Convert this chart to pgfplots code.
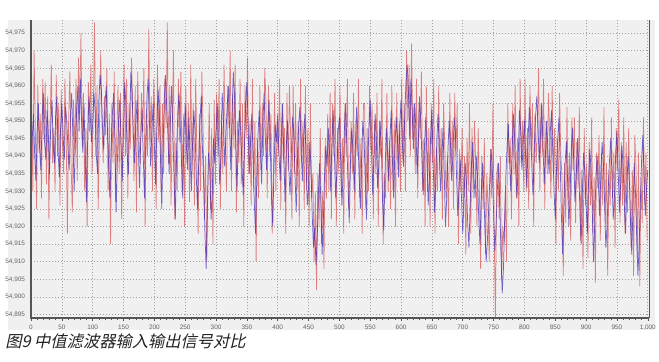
\documentclass[border=0pt]{standalone}
\usepackage{pgfplots}
\pgfplotsset{compat=1.18}
\usepackage{pgfplotstable}
\usepackage{fontspec}
\setmainfont{Liberation Sans}
\newfontfamily\cjk[FakeSlant=0.22]{Noto Sans CJK SC}
\definecolor{panel}{RGB}{240,240,240}
\definecolor{inred}{RGB}{210,65,65}
\definecolor{outblue}{RGB}{60,40,185}
\definecolor{gridc}{RGB}{160,160,160}
\definecolor{tickc}{RGB}{100,100,100}
\definecolor{axisc}{RGB}{85,85,85}
\definecolor{captionc}{RGB}{35,35,35}

\pgfplotstableread[row sep=\\]{
x y\\
0 54.938\\ 2 54.945\\ 4 54.952\\ 6 54.940\\ 8 54.933\\ 10 54.947\\ 12 54.955\\ 14 54.942\\ 16 54.936\\ 18 54.950\\
20 54.958\\ 22 54.944\\ 24 54.939\\ 26 54.953\\ 28 54.947\\ 30 54.935\\ 32 54.949\\ 34 54.956\\ 36 54.943\\ 38 54.938\\
40 54.952\\ 42 54.957\\ 44 54.941\\ 46 54.934\\ 48 54.948\\ 50 54.955\\ 52 54.946\\ 54 54.939\\ 56 54.954\\ 58 54.950\\
60 54.942\\ 62 54.936\\ 64 54.951\\ 66 54.958\\ 68 54.945\\ 70 54.930\\ 72 54.944\\ 74 54.953\\ 76 54.960\\ 78 54.947\\
80 54.962\\ 82 54.950\\ 84 54.941\\ 86 54.955\\ 88 54.938\\ 90 54.927\\ 92 54.946\\ 94 54.957\\ 96 54.952\\ 98 54.944\\
100 54.949\\ 102 54.958\\ 104 54.953\\ 106 54.940\\ 108 54.935\\ 110 54.956\\ 112 54.963\\ 114 54.959\\ 116 54.948\\ 118 54.942\\
120 54.955\\ 122 54.960\\ 124 54.947\\ 126 54.937\\ 128 54.928\\ 130 54.943\\ 132 54.952\\ 134 54.958\\ 136 54.945\\ 138 54.924\\
140 54.938\\ 142 54.950\\ 144 54.956\\ 146 54.944\\ 148 54.933\\ 150 54.947\\ 152 54.961\\ 154 54.954\\ 156 54.940\\ 158 54.935\\
160 54.951\\ 162 54.964\\ 164 54.958\\ 166 54.946\\ 168 54.938\\ 170 54.949\\ 172 54.956\\ 174 54.942\\ 176 54.931\\ 178 54.945\\
180 54.953\\ 182 54.940\\ 184 54.928\\ 186 54.944\\ 188 54.957\\ 190 54.962\\ 192 54.950\\ 194 54.937\\ 196 54.947\\ 198 54.955\\
200 54.943\\ 202 54.932\\ 204 54.948\\ 206 54.959\\ 208 54.952\\ 210 54.939\\ 212 54.925\\ 214 54.942\\ 216 54.956\\ 218 54.963\\
220 54.954\\ 222 54.946\\ 224 54.935\\ 226 54.950\\ 228 54.960\\ 230 54.947\\ 232 54.933\\ 234 54.922\\ 236 54.941\\ 238 54.952\\
240 54.958\\ 242 54.949\\ 244 54.938\\ 246 54.928\\ 248 54.945\\ 250 54.955\\ 252 54.943\\ 254 54.936\\ 256 54.951\\ 258 54.940\\
260 54.930\\ 262 54.944\\ 264 54.953\\ 266 54.947\\ 268 54.934\\ 270 54.925\\ 272 54.939\\ 274 54.950\\ 276 54.957\\ 278 54.942\\
280 54.933\\ 282 54.918\\ 284 54.908\\ 286 54.926\\ 288 54.941\\ 290 54.936\\ 292 54.922\\ 294 54.930\\ 296 54.945\\ 298 54.938\\
300 54.947\\ 302 54.955\\ 304 54.944\\ 306 54.932\\ 308 54.940\\ 310 54.958\\ 312 54.950\\ 314 54.937\\ 316 54.946\\ 318 54.954\\
320 54.960\\ 322 54.948\\ 324 54.936\\ 326 54.952\\ 328 54.964\\ 330 54.957\\ 332 54.943\\ 334 54.930\\ 336 54.945\\ 338 54.953\\
340 54.947\\ 342 54.938\\ 344 54.929\\ 346 54.942\\ 348 54.955\\ 350 54.961\\ 352 54.949\\ 354 54.935\\ 356 54.944\\ 358 54.952\\
360 54.940\\ 362 54.927\\ 364 54.918\\ 366 54.933\\ 368 54.946\\ 370 54.953\\ 372 54.941\\ 374 54.932\\ 376 54.950\\ 378 54.958\\
380 54.945\\ 382 54.936\\ 384 54.948\\ 386 54.956\\ 388 54.942\\ 390 54.928\\ 392 54.920\\ 394 54.937\\ 396 54.949\\ 398 54.944\\
400 54.952\\ 402 54.941\\ 404 54.933\\ 406 54.946\\ 408 54.955\\ 410 54.939\\ 412 54.927\\ 414 54.943\\ 416 54.950\\ 418 54.936\\
420 54.929\\ 422 54.940\\ 424 54.951\\ 426 54.947\\ 428 54.935\\ 430 54.924\\ 432 54.938\\ 434 54.949\\ 436 54.954\\ 438 54.942\\
440 54.933\\ 442 54.945\\ 444 54.952\\ 446 54.938\\ 448 54.926\\ 450 54.931\\ 452 54.944\\ 454 54.936\\ 456 54.923\\ 458 54.914\\
460 54.920\\ 462 54.909\\ 464 54.916\\ 466 54.930\\ 468 54.938\\ 470 54.927\\ 472 54.912\\ 474 54.922\\ 476 54.935\\ 478 54.943\\
480 54.937\\ 482 54.948\\ 484 54.941\\ 486 54.930\\ 488 54.945\\ 490 54.953\\ 492 54.940\\ 494 54.928\\ 496 54.936\\ 498 54.947\\
500 54.951\\ 502 54.939\\ 504 54.926\\ 506 54.935\\ 508 54.947\\ 510 54.955\\ 512 54.944\\ 514 54.932\\ 516 54.921\\ 518 54.938\\
520 54.948\\ 522 54.942\\ 524 54.930\\ 526 54.943\\ 528 54.954\\ 530 54.946\\ 532 54.934\\ 534 54.925\\ 536 54.939\\ 538 54.950\\
540 54.945\\ 542 54.933\\ 544 54.922\\ 546 54.937\\ 548 54.949\\ 550 54.956\\ 552 54.942\\ 554 54.929\\ 556 54.940\\ 558 54.952\\
560 54.944\\ 562 54.931\\ 564 54.938\\ 566 54.950\\ 568 54.943\\ 570 54.927\\ 572 54.919\\ 574 54.935\\ 576 54.948\\ 578 54.941\\
580 54.933\\ 582 54.945\\ 584 54.953\\ 586 54.939\\ 588 54.928\\ 590 54.942\\ 592 54.951\\ 594 54.946\\ 596 54.934\\ 598 54.949\\
600 54.956\\ 602 54.944\\ 604 54.937\\ 606 54.952\\ 608 54.961\\ 610 54.966\\ 612 54.958\\ 614 54.945\\ 616 54.962\\ 618 54.953\\
620 54.942\\ 622 54.955\\ 624 54.948\\ 626 54.935\\ 628 54.944\\ 630 54.957\\ 632 54.950\\ 634 54.938\\ 636 54.929\\ 638 54.943\\
640 54.951\\ 642 54.940\\ 644 54.926\\ 646 54.934\\ 648 54.946\\ 650 54.953\\ 652 54.939\\ 654 54.924\\ 656 54.932\\ 658 54.945\\
660 54.952\\ 662 54.941\\ 664 54.930\\ 666 54.938\\ 668 54.948\\ 670 54.935\\ 672 54.920\\ 674 54.928\\ 676 54.942\\ 678 54.950\\
680 54.944\\ 682 54.933\\ 684 54.940\\ 686 54.951\\ 688 54.947\\ 690 54.934\\ 692 54.923\\ 694 54.931\\ 696 54.939\\ 698 54.928\\
700 54.918\\ 702 54.927\\ 704 54.938\\ 706 54.933\\ 708 54.921\\ 710 54.914\\ 712 54.926\\ 714 54.937\\ 716 54.944\\ 718 54.935\\
720 54.928\\ 722 54.940\\ 724 54.934\\ 726 54.922\\ 728 54.915\\ 730 54.929\\ 732 54.938\\ 734 54.931\\ 736 54.919\\ 738 54.910\\
740 54.916\\ 742 54.925\\ 744 54.934\\ 746 54.942\\ 748 54.936\\ 750 54.924\\ 752 54.913\\ 754 54.920\\ 756 54.930\\ 758 54.938\\
760 54.927\\ 762 54.912\\ 764 54.901\\ 766 54.908\\ 768 54.922\\ 770 54.935\\ 772 54.943\\ 774 54.949\\ 776 54.938\\ 778 54.930\\
780 54.941\\ 782 54.952\\ 784 54.946\\ 786 54.935\\ 788 54.928\\ 790 54.940\\ 792 54.953\\ 794 54.947\\ 796 54.936\\ 798 54.944\\
800 54.950\\ 802 54.939\\ 804 54.931\\ 806 54.945\\ 808 54.954\\ 810 54.948\\ 812 54.937\\ 814 54.929\\ 816 54.943\\ 818 54.951\\
820 54.957\\ 822 54.949\\ 824 54.938\\ 826 54.946\\ 828 54.955\\ 830 54.944\\ 832 54.932\\ 834 54.940\\ 836 54.950\\ 838 54.942\\
840 54.935\\ 842 54.947\\ 844 54.953\\ 846 54.941\\ 848 54.930\\ 850 54.922\\ 852 54.936\\ 854 54.945\\ 856 54.951\\ 858 54.938\\
860 54.923\\ 862 54.912\\ 864 54.926\\ 866 54.938\\ 868 54.944\\ 870 54.933\\ 872 54.920\\ 874 54.929\\ 876 54.942\\ 878 54.948\\
880 54.939\\ 882 54.927\\ 884 54.934\\ 886 54.945\\ 888 54.937\\ 890 54.924\\ 892 54.915\\ 894 54.930\\ 896 54.941\\ 898 54.935\\
900 54.926\\ 902 54.918\\ 904 54.933\\ 906 54.942\\ 908 54.936\\ 910 54.925\\ 912 54.910\\ 914 54.921\\ 916 54.934\\ 918 54.940\\
920 54.932\\ 922 54.923\\ 924 54.936\\ 926 54.944\\ 928 54.938\\ 930 54.927\\ 932 54.914\\ 934 54.920\\ 936 54.931\\ 938 54.939\\
940 54.945\\ 942 54.934\\ 944 54.922\\ 946 54.929\\ 948 54.941\\ 950 54.947\\ 952 54.936\\ 954 54.924\\ 956 54.932\\ 958 54.943\\
960 54.937\\ 962 54.926\\ 964 54.918\\ 966 54.931\\ 968 54.940\\ 970 54.934\\ 972 54.921\\ 974 54.912\\ 976 54.925\\ 978 54.938\\
980 54.930\\ 982 54.917\\ 984 54.906\\ 986 54.915\\ 988 54.927\\ 990 54.939\\ 992 54.946\\ 994 54.934\\ 996 54.923\\ 998 54.931\\
1000 54.936\\
}\outdata

\pgfplotstableread[row sep=\\]{
x y\\
1 54.955\\ 3 54.930\\ 5 54.970\\ 7 54.948\\ 9 54.925\\ 11 54.960\\ 13 54.941\\ 15 54.952\\ 17 54.928\\ 19 54.962\\
21 54.945\\ 23 54.961\\ 25 54.932\\ 27 54.957\\ 29 54.922\\ 31 54.950\\ 33 54.966\\ 35 54.938\\ 37 54.948\\ 39 54.930\\
41 54.963\\ 43 54.940\\ 45 54.955\\ 47 54.926\\ 49 54.959\\ 51 54.944\\ 53 54.935\\ 55 54.962\\ 57 54.947\\ 59 54.918\\
61 54.950\\ 63 54.964\\ 65 54.938\\ 67 54.924\\ 69 54.956\\ 71 54.940\\ 73 54.962\\ 75 54.933\\ 77 54.968\\ 79 54.952\\
81 54.975\\ 83 54.943\\ 85 54.958\\ 87 54.930\\ 89 54.948\\ 91 54.920\\ 93 54.961\\ 95 54.947\\ 97 54.966\\ 99 54.935\\
101 54.952\\ 103 54.978\\ 105 54.940\\ 107 54.960\\ 109 54.925\\ 111 54.948\\ 113 54.970\\ 115 54.950\\ 117 54.938\\ 119 54.957\\
121 54.946\\ 123 54.965\\ 125 54.930\\ 127 54.952\\ 129 54.915\\ 131 54.955\\ 133 54.938\\ 135 54.964\\ 137 54.927\\ 139 54.945\\
141 54.960\\ 143 54.935\\ 145 54.958\\ 147 54.922\\ 149 54.950\\ 151 54.966\\ 153 54.940\\ 155 54.962\\ 157 54.928\\ 159 54.955\\
161 54.942\\ 163 54.968\\ 165 54.950\\ 167 54.933\\ 169 54.960\\ 171 54.924\\ 173 54.964\\ 175 54.945\\ 177 54.938\\ 179 54.958\\
181 54.947\\ 183 54.965\\ 185 54.920\\ 187 54.952\\ 189 54.940\\ 191 54.976\\ 193 54.944\\ 195 54.957\\ 197 54.930\\ 199 54.962\\
201 54.950\\ 203 54.925\\ 205 54.966\\ 207 54.944\\ 209 54.960\\ 211 54.930\\ 213 54.955\\ 215 54.935\\ 217 54.962\\ 219 54.948\\
221 54.978\\ 223 54.938\\ 225 54.960\\ 227 54.926\\ 229 54.948\\ 231 54.970\\ 233 54.922\\ 235 54.945\\ 237 54.930\\ 239 54.962\\
241 54.944\\ 243 54.964\\ 245 54.930\\ 247 54.952\\ 249 54.920\\ 251 54.960\\ 253 54.938\\ 255 54.955\\ 257 54.927\\ 259 54.966\\
261 54.935\\ 263 54.955\\ 265 54.926\\ 267 54.962\\ 269 54.940\\ 271 54.918\\ 273 54.952\\ 275 54.930\\ 277 54.964\\ 279 54.948\\
281 54.922\\ 283 54.940\\ 285 54.910\\ 287 54.934\\ 289 54.955\\ 291 54.925\\ 293 54.948\\ 295 54.915\\ 297 54.956\\ 299 54.932\\
301 54.958\\ 303 54.940\\ 305 54.962\\ 307 54.925\\ 309 54.952\\ 311 54.935\\ 313 54.966\\ 315 54.944\\ 317 54.930\\ 319 54.960\\
321 54.948\\ 323 54.970\\ 325 54.930\\ 327 54.958\\ 329 54.942\\ 331 54.966\\ 333 54.924\\ 335 54.950\\ 337 54.938\\ 339 54.962\\
341 54.932\\ 343 54.955\\ 345 54.920\\ 347 54.960\\ 349 54.945\\ 351 54.968\\ 353 54.935\\ 355 54.950\\ 357 54.926\\ 359 54.962\\
361 54.930\\ 363 54.950\\ 365 54.910\\ 367 54.945\\ 369 54.928\\ 371 54.960\\ 373 54.936\\ 375 54.955\\ 377 54.940\\ 379 54.965\\
381 54.955\\ 383 54.928\\ 385 54.960\\ 387 54.940\\ 389 54.952\\ 391 54.918\\ 393 54.935\\ 395 54.958\\ 397 54.930\\ 399 54.950\\
401 54.940\\ 403 54.962\\ 405 54.925\\ 407 54.955\\ 409 54.938\\ 411 54.948\\ 413 54.918\\ 415 54.958\\ 417 54.936\\ 419 54.960\\
421 54.945\\ 423 54.922\\ 425 54.960\\ 427 54.935\\ 429 54.955\\ 431 54.930\\ 433 54.950\\ 435 54.920\\ 437 54.962\\ 439 54.938\\
441 54.950\\ 443 54.925\\ 445 54.960\\ 447 54.930\\ 449 54.948\\ 451 54.920\\ 453 54.955\\ 455 54.928\\ 457 54.935\\ 459 54.910\\
461 54.930\\ 463 54.902\\ 465 54.935\\ 467 54.920\\ 469 54.948\\ 471 54.915\\ 473 54.930\\ 475 54.908\\ 477 54.945\\ 479 54.928\\
481 54.952\\ 483 54.930\\ 485 54.958\\ 487 54.922\\ 489 54.955\\ 491 54.940\\ 493 54.962\\ 495 54.920\\ 497 54.948\\ 499 54.935\\
501 54.960\\ 503 54.930\\ 505 54.945\\ 507 54.918\\ 509 54.955\\ 511 54.940\\ 513 54.962\\ 515 54.925\\ 517 54.935\\ 519 54.950\\
521 54.935\\ 523 54.958\\ 525 54.922\\ 527 54.950\\ 529 54.940\\ 531 54.962\\ 533 54.928\\ 535 54.945\\ 537 54.918\\ 539 54.955\\
541 54.955\\ 543 54.925\\ 545 54.948\\ 547 54.930\\ 549 54.960\\ 551 54.942\\ 553 54.955\\ 555 54.922\\ 557 54.950\\ 559 54.935\\
561 54.958\\ 563 54.920\\ 565 54.950\\ 567 54.940\\ 569 54.962\\ 571 54.915\\ 573 54.935\\ 575 54.928\\ 577 54.958\\ 579 54.930\\
581 54.945\\ 583 54.925\\ 585 54.960\\ 587 54.930\\ 589 54.950\\ 591 54.920\\ 593 54.958\\ 595 54.936\\ 597 54.950\\ 599 54.930\\
601 54.962\\ 603 54.938\\ 605 54.955\\ 607 54.930\\ 609 54.970\\ 611 54.950\\ 613 54.966\\ 615 54.940\\ 617 54.972\\ 619 54.945\\
621 54.955\\ 623 54.935\\ 625 54.962\\ 627 54.928\\ 629 54.955\\ 631 54.945\\ 633 54.964\\ 635 54.930\\ 637 54.945\\ 639 54.920\\
641 54.960\\ 643 54.930\\ 645 54.948\\ 647 54.920\\ 649 54.955\\ 651 54.938\\ 653 54.962\\ 655 54.918\\ 657 54.942\\ 659 54.930\\
661 54.960\\ 663 54.935\\ 665 54.948\\ 667 54.922\\ 669 54.955\\ 671 54.942\\ 673 54.928\\ 675 54.940\\ 677 54.920\\ 679 54.958\\
681 54.935\\ 683 54.950\\ 685 54.925\\ 687 54.958\\ 689 54.940\\ 691 54.955\\ 693 54.915\\ 695 54.942\\ 697 54.930\\ 699 54.948\\
701 54.925\\ 703 54.940\\ 705 54.912\\ 707 54.945\\ 709 54.930\\ 711 54.955\\ 713 54.918\\ 715 54.948\\ 717 54.928\\ 719 54.950\\
721 54.938\\ 723 54.920\\ 725 54.948\\ 727 54.930\\ 729 54.908\\ 731 54.940\\ 733 54.925\\ 735 54.945\\ 737 54.912\\ 739 54.935\\
741 54.925\\ 743 54.910\\ 745 54.942\\ 747 54.928\\ 749 54.955\\ 751 54.918\\ 753 54.894\\ 755 54.935\\ 757 54.938\\ 759 54.922\\
761 54.940\\ 763 54.905\\ 765 54.920\\ 767 54.915\\ 769 54.930\\ 771 54.910\\ 773 54.955\\ 775 54.938\\ 777 54.945\\ 779 54.922\\
781 54.955\\ 783 54.935\\ 785 54.960\\ 787 54.928\\ 789 54.945\\ 791 54.920\\ 793 54.962\\ 795 54.938\\ 797 54.950\\ 799 54.930\\
801 54.962\\ 803 54.930\\ 805 54.948\\ 807 54.925\\ 809 54.960\\ 811 54.940\\ 813 54.955\\ 815 54.920\\ 817 54.952\\ 819 54.938\\
821 54.948\\ 823 54.965\\ 825 54.930\\ 827 54.955\\ 829 54.940\\ 831 54.962\\ 833 54.925\\ 835 54.950\\ 837 54.935\\ 839 54.958\\
841 54.945\\ 843 54.928\\ 845 54.960\\ 847 54.935\\ 849 54.948\\ 851 54.915\\ 853 54.945\\ 855 54.930\\ 857 54.958\\ 859 54.940\\
861 54.934\\ 863 54.906\\ 865 54.938\\ 867 54.921\\ 869 54.954\\ 871 54.926\\ 873 54.941\\ 875 54.916\\ 877 54.951\\ 879 54.936\\
881 54.951\\ 883 54.921\\ 885 54.944\\ 887 54.931\\ 889 54.954\\ 891 54.916\\ 893 54.936\\ 895 54.908\\ 897 54.948\\ 899 54.926\\
901 54.938\\ 903 54.911\\ 905 54.944\\ 907 54.926\\ 909 54.951\\ 911 54.918\\ 913 54.934\\ 915 54.904\\ 917 54.941\\ 919 54.931\\
921 54.946\\ 923 54.916\\ 925 54.941\\ 927 54.926\\ 929 54.954\\ 931 54.921\\ 933 54.938\\ 935 54.906\\ 937 54.936\\ 939 54.926\\
941 54.951\\ 943 54.928\\ 945 54.941\\ 947 54.914\\ 949 54.948\\ 951 54.936\\ 953 54.956\\ 955 54.921\\ 957 54.944\\ 959 54.926\\
961 54.951\\ 963 54.918\\ 965 54.944\\ 967 54.924\\ 969 54.948\\ 971 54.931\\ 973 54.914\\ 975 54.936\\ 977 54.906\\ 979 54.946\\
981 54.936\\ 983 54.911\\ 985 54.941\\ 987 54.903\\ 989 54.934\\ 991 54.921\\ 993 54.951\\ 995 54.926\\ 997 54.941\\ 999 54.916\\
}\indata

\begin{document}
\begin{tikzpicture}[x=0.75pt,y=0.75pt]
\useasboundingbox (0,0) rectangle (659,361);
\fill[white] (0,0) rectangle (659,361);
\fill[panel] (8,31) rectangle (655,341);
\begin{axis}[
  name=ax,
  at={(23.25pt,32.25pt)}, anchor=south west,
  scale only axis, width=463.5pt, height=223.5pt,
  xmin=0, xmax=1002, ymin=54.894, ymax=54.9787,
  axis line style={draw=none},
  axis background/.style={fill=panel},
  xtick={0,50,100,150,200,250,300,350,400,450,500,550,600,650,700,750,800,850,900,950,1000},
  minor x tick num=4,
  ytick={54.895,54.900,54.905,54.910,54.915,54.920,54.925,54.930,54.935,54.940,54.945,54.950,54.955,54.960,54.965,54.970,54.975},
  grid=major,
  major grid style={gridc, dash pattern=on 0.75pt off 1.5pt, line width=0.5pt},
  tick align=outside,
  major tick length=2pt, minor tick length=1.5pt,
  every tick/.style={axisc, line width=0.4pt},
  xtick pos=bottom, ytick pos=left,
  ytick style={draw=none},
  tick label style={font=\fontsize{4.8}{6}\selectfont, text=tickc},
  /pgf/number format/assume math mode=true,
  yticklabel style={/pgf/number format/fixed, /pgf/number format/fixed zerofill, /pgf/number format/precision=3, /pgf/number format/use comma, xshift=1pt},
  xticklabel style={/pgf/number format/1000 sep={,}},
]
\addplot[inred, line width=0.55pt, opacity=0.65, mark=none] table[x=x, y=y] {\indata};
\addplot[outblue, line width=0.55pt, opacity=0.7, mark=none] table[x=x, y=y] {\outdata};
\end{axis}
\draw[axisc, line width=1.3pt] (ax.north west) -- (ax.south west) -- (ax.south east);
\draw[axisc, line width=0.6pt] (ax.south east) -- (ax.north east);
\node[anchor=base west, inner sep=0pt, text=captionc] at (5,14) {\cjk\fontsize{12.2}{14}\selectfont 图9 中值滤波器输入输出信号对比};
\end{tikzpicture}
\end{document}
